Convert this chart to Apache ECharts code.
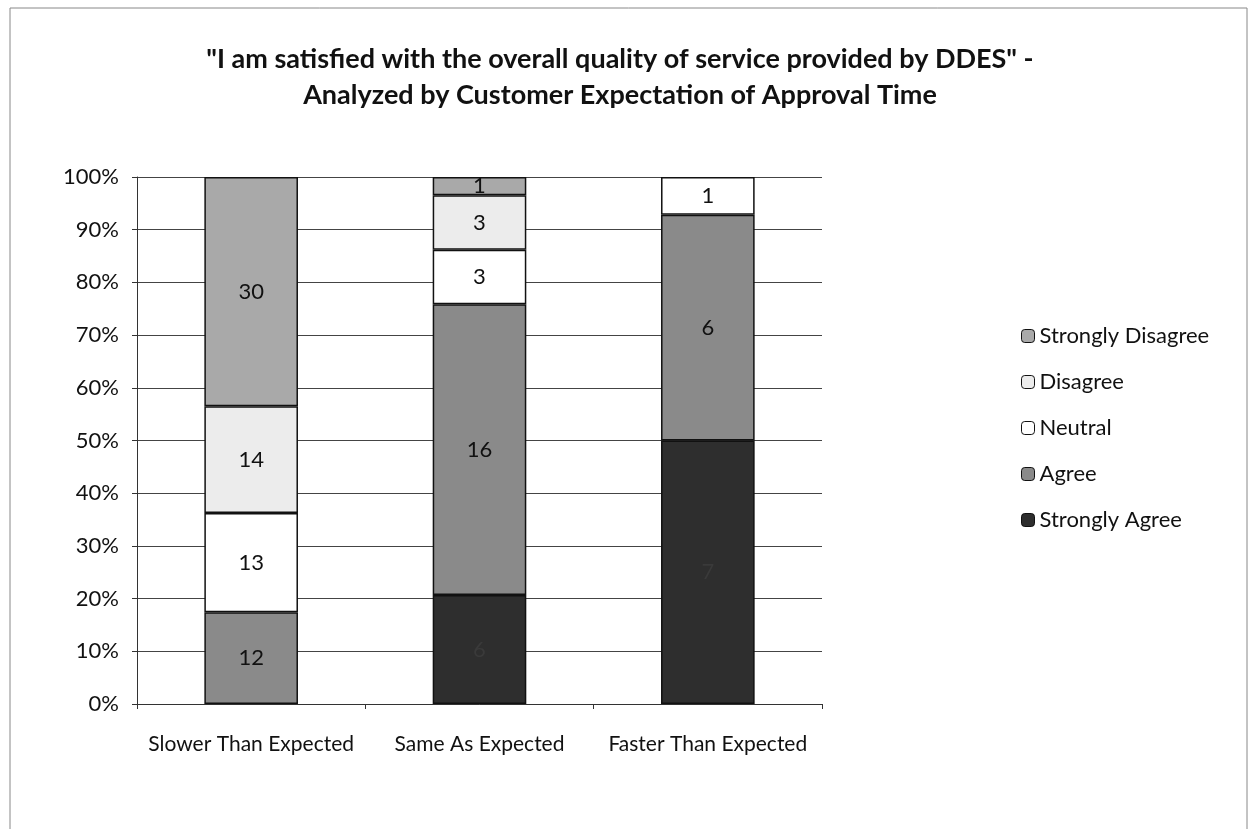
<!DOCTYPE html>
<html>
<head>
<meta charset="utf-8">
<script src="https://cdn.jsdelivr.net/npm/echarts@6/dist/echarts.min.js"></script>
<style>
  html, body { margin: 0; padding: 0; background: #fff; }
  #chart { width: 1252px; height: 829px; }
</style>
</head>
<body>
<div id="chart"></div>
<script>
// categories and answer counts, bottom of the stack first
const categories = ["Slower Than Expected", "Same As Expected", "Faster Than Expected"]
const stronglyAgree = [0, 6, 7]
const agree = [12, 16, 6]
const neutral = [13, 3, 1]
const disagree = [14, 3, 0]
const stronglyDisagree = [30, 1, 0]
const yTicks = [0, 10, 20, 30, 40, 50, 60, 70, 80, 90, 100]

const seriesDefs = [
  { name: "Strongly Agree", data: stronglyAgree, color: "#2e2e2e", label: "#3a3a3a" },
  { name: "Agree", data: agree, color: "#8a8a8a", label: "#111" },
  { name: "Neutral", data: neutral, color: "#ffffff", label: "#111" },
  { name: "Disagree", data: disagree, color: "#ececec", label: "#111" },
  { name: "Strongly Disagree", data: stronglyDisagree, color: "#a9a9a9", label: "#111" },
]

const totals = categories.map((_, i) => seriesDefs.reduce((s, d) => s + d.data[i], 0))

const font = "Lato, 'Open Sans', sans-serif"

const chart = echarts.init(document.getElementById("chart"))

chart.setOption({
  backgroundColor: "#fff",
  animation: false,
  textStyle: { fontFamily: font },
  title: {
    text: '"I am satisfied with the overall quality of service provided by DDES" -\nAnalyzed by Customer Expectation of Approval Time',
    left: 615,
    top: 36,
    textAlign: "center",
    textStyle: { fontSize: 27, fontWeight: "bold", color: "#111", lineHeight: 36, fontFamily: font },
  },
  graphic: [
    {
      type: "rect",
      shape: { x: 10, y: 8, width: 1237, height: 840 },
      style: { fill: "none", stroke: "#888", lineWidth: 1 },
      silent: true,
    },
  ],
  legend: {
    orient: "vertical",
    left: 1016,
    top: 320,
    itemGap: 24,
    itemWidth: 13,
    itemHeight: 13,
    data: seriesDefs.map(d => d.name).reverse(),
    textStyle: { fontSize: 22, color: "#111", fontFamily: font },
    itemStyle: { borderColor: "#111", borderWidth: 1 },
  },
  grid: { left: 137, right: 430, top: 177, bottom: 125 },
  xAxis: {
    type: "category",
    data: categories,
    axisLine: { lineStyle: { color: "#333", width: 1 } },
    axisTick: { show: true, length: 5, lineStyle: { color: "#333" } },
    axisLabel: { interval: 0, hideOverlap: false, fontSize: 21, color: "#111", margin: 30, fontFamily: font },
  },
  yAxis: {
    type: "value",
    min: yTicks[0],
    max: yTicks[yTicks.length - 1],
    interval: 10,
    axisLine: { show: true, lineStyle: { color: "#333", width: 1 } },
    axisTick: { show: true, length: 5, lineStyle: { color: "#333" } },
    axisLabel: { fontSize: 22, color: "#111", margin: 18, formatter: "{value}%", fontFamily: font },
    splitLine: { lineStyle: { color: "#444", width: 1 } },
  },
  series: seriesDefs.map(d => ({
    name: d.name,
    type: "bar",
    stack: "total",
    barWidth: "41%",
    data: d.data.map((v, i) => ({ value: v === 0 ? null : (v / totals[i]) * 100, count: v })),
    itemStyle: { color: d.color, borderColor: "#111", borderWidth: 1.5 },
    label: {
      show: true,
      position: "inside",
      fontSize: 22,
      color: d.label,
      fontFamily: font,
      formatter: p => (p.data && p.data.count ? String(p.data.count) : ""),
    },
  })),
})
</script>
</body>
</html>
